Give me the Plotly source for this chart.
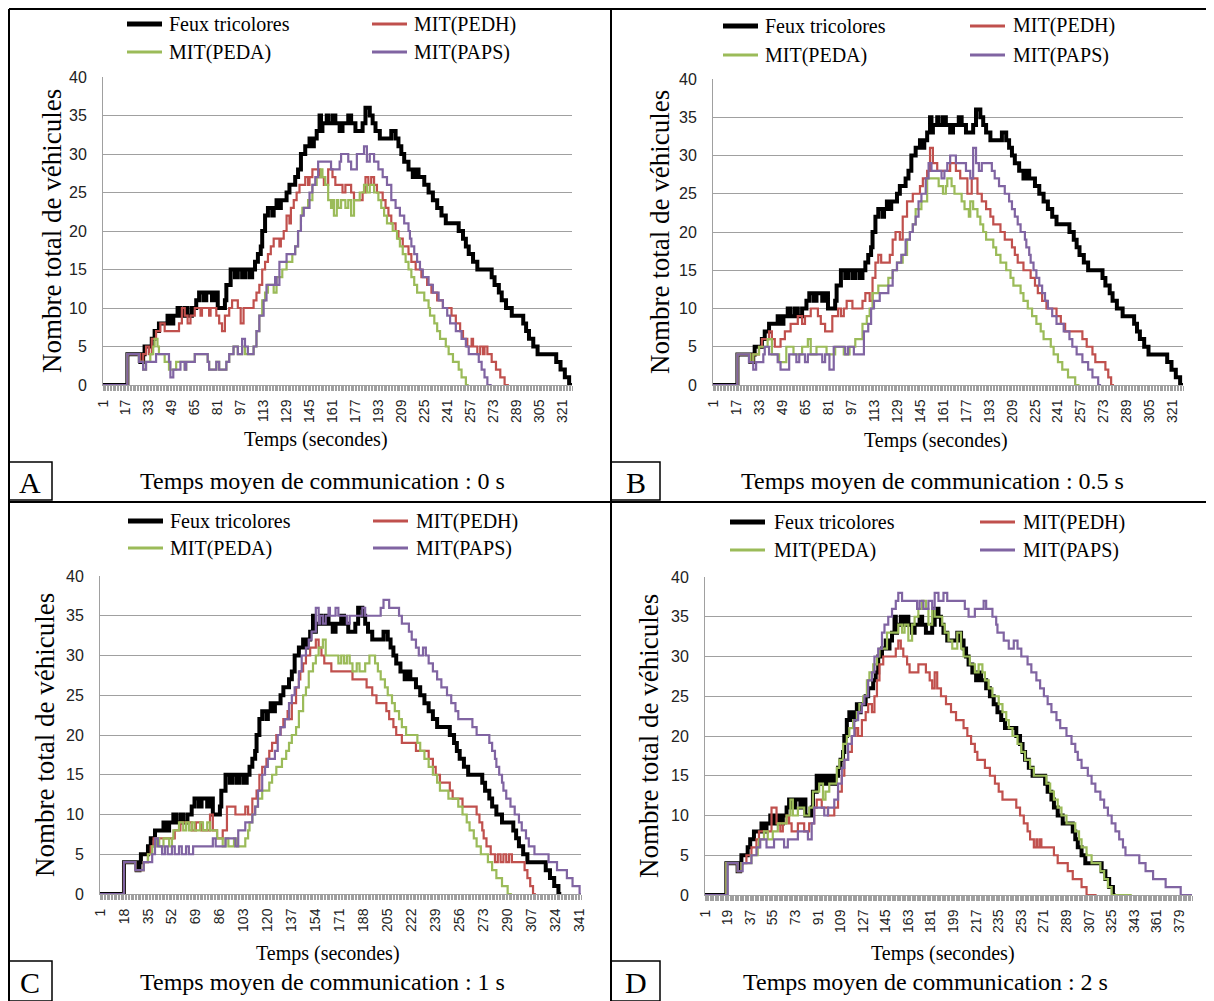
import plotly.graph_objects as go

# the page puts the figure 8 px from the top-left corner of the window
OFF = 8
W, H = 1214 - OFF, 1001 - OFF
SERIF = 'Liberation Serif, Times New Roman, serif'
SANS = 'Liberation Sans, Arial, sans-serif'
GRID = '#a0a0a0'

names = ['Feux tricolores', 'MIT(PEDH)', 'MIT(PEDA)', 'MIT(PAPS)']
colors = ['#000000', '#C0504D', '#9BBB59', '#8064A2']
widths = [4, 2.2, 2.2, 2.2]

# (temps en secondes, nombre total de véhicules) : points de changement de palier
feux = [(1, 0), (18, 4), (27, 3), (29, 4), (30, 5), (35, 6), (37, 7), (40, 8), (46, 9), (48, 8), (50, 9),
        (53, 10), (55, 9), (58, 10), (60, 9), (63, 10), (66, 11), (68, 12), (71, 11), (73, 12), (77, 11),
        (79, 12), (81, 10), (86, 11), (87, 13), (90, 15), (93, 14), (95, 15), (98, 14), (100, 15), (103, 14),
        (105, 15), (107, 16), (109, 17), (111, 18), (112, 20), (114, 22), (116, 23), (119, 22), (120, 23),
        (122, 24), (124, 23), (125, 24), (129, 25), (131, 26), (135, 27), (137, 28), (139, 30), (142, 31),
        (145, 32), (147, 31), (148, 32), (150, 33), (152, 35), (153, 33), (154, 34), (157, 35), (158, 34),
        (161, 35), (163, 34), (166, 33), (168, 34), (172, 35), (174, 34), (177, 33), (182, 34), (184, 36),
        (187, 35), (189, 34), (191, 33), (194, 32), (202, 33), (205, 32), (207, 31), (209, 30), (211, 29),
        (214, 28), (217, 27), (219, 28), (221, 27), (225, 26), (228, 25), (231, 24), (234, 23), (237, 22),
        (240, 21), (249, 20), (252, 19), (254, 18), (256, 17), (259, 16), (262, 15), (272, 14), (274, 13),
        (277, 12), (279, 11), (282, 10), (286, 9), (294, 8), (296, 7), (298, 6), (301, 5), (304, 4),
        (317, 3), (320, 2), (323, 1), (326, 0), (328, 0)]

# A : 0 s
a_pedh = [(1, 0), (18, 4), (27, 3), (29, 4), (31, 5), (33, 4), (35, 6), (38, 7), (41, 8), (44, 7), (54, 8),
          (56, 10), (58, 9), (60, 8), (62, 9), (65, 10), (69, 9), (70, 10), (75, 9), (76, 10), (80, 9),
          (82, 8), (84, 7), (86, 9), (89, 10), (91, 11), (95, 10), (97, 8), (99, 10), (106, 11), (108, 12),
          (110, 13), (112, 15), (114, 16), (116, 17), (118, 18), (120, 19), (124, 18), (125, 19), (127, 20),
          (129, 22), (131, 21), (132, 23), (134, 24), (136, 25), (138, 26), (142, 27), (144, 26), (145, 27),
          (147, 28), (152, 27), (155, 26), (158, 28), (161, 27), (163, 26), (168, 25), (170, 26), (174, 25),
          (176, 24), (182, 25), (184, 27), (186, 26), (188, 27), (190, 26), (192, 25), (196, 24), (198, 23),
          (200, 22), (202, 21), (205, 20), (207, 19), (210, 18), (214, 17), (216, 16), (219, 15), (223, 14),
          (227, 13), (230, 12), (234, 11), (238, 10), (244, 9), (247, 8), (250, 7), (252, 6), (255, 5),
          (258, 6), (259, 5), (262, 4), (264, 5), (266, 4), (267, 5), (269, 4), (272, 3), (275, 2), (278, 1),
          (281, 0), (284, 0)]
a_peda = [(1, 0), (18, 4), (26, 3), (29, 2), (31, 3), (34, 4), (36, 5), (37, 6), (39, 5), (40, 4), (44, 3),
          (47, 2), (52, 3), (58, 2), (59, 3), (65, 4), (74, 3), (75, 2), (80, 3), (82, 2), (87, 3), (89, 4),
          (92, 5), (95, 4), (98, 5), (100, 4), (106, 5), (108, 7), (110, 9), (112, 11), (114, 12), (116, 13),
          (120, 12), (122, 14), (126, 15), (129, 16), (133, 17), (135, 18), (137, 20), (139, 22), (140, 23),
          (144, 24), (147, 26), (150, 27), (153, 28), (154, 27), (156, 26), (158, 24), (160, 23), (161, 24),
          (162, 22), (164, 24), (165, 23), (167, 24), (170, 23), (172, 24), (174, 22), (176, 24), (180, 25),
          (183, 26), (185, 25), (187, 26), (190, 25), (193, 24), (195, 23), (197, 22), (199, 21), (203, 20),
          (206, 19), (208, 18), (210, 17), (212, 16), (214, 15), (216, 14), (218, 13), (220, 12), (225, 11),
          (228, 10), (229, 9), (232, 8), (234, 7), (236, 6), (240, 5), (242, 4), (245, 3), (249, 2), (251, 1),
          (254, 0), (256, 0)]
a_paps = [(1, 0), (18, 4), (26, 3), (29, 2), (31, 3), (38, 4), (47, 3), (48, 1), (50, 2), (55, 3), (58, 2),
          (59, 3), (65, 4), (74, 3), (75, 2), (80, 3), (82, 2), (87, 3), (89, 4), (92, 5), (95, 4), (98, 6),
          (100, 5), (102, 4), (106, 5), (108, 7), (110, 9), (113, 11), (115, 13), (121, 14), (122, 13),
          (124, 16), (129, 17), (135, 18), (137, 20), (139, 22), (141, 23), (145, 25), (147, 26), (149, 27),
          (151, 29), (160, 28), (166, 29), (167, 30), (172, 29), (174, 28), (178, 30), (183, 31), (185, 29),
          (187, 30), (190, 29), (193, 28), (196, 27), (199, 26), (202, 24), (205, 23), (208, 22), (211, 21),
          (214, 20), (215, 19), (216, 18), (218, 17), (220, 16), (222, 15), (224, 14), (228, 13), (231, 12),
          (235, 11), (238, 10), (241, 9), (243, 8), (247, 7), (251, 6), (254, 5), (256, 4), (263, 3),
          (265, 2), (267, 1), (269, 0), (272, 0)]

# B : 0.5 s
b_pedh = [(1, 0), (18, 4), (27, 3), (29, 4), (33, 5), (35, 6), (40, 7), (42, 6), (44, 5), (48, 6), (51, 7),
          (55, 8), (60, 9), (63, 8), (65, 9), (69, 10), (74, 9), (76, 8), (79, 7), (84, 9), (88, 10), (90, 9),
          (92, 10), (94, 11), (98, 10), (105, 11), (107, 12), (110, 11), (112, 14), (114, 16), (116, 17),
          (118, 16), (124, 17), (126, 19), (128, 20), (131, 19), (133, 22), (136, 24), (140, 25), (145, 26),
          (147, 27), (150, 28), (152, 31), (154, 29), (157, 28), (166, 29), (170, 28), (173, 27), (178, 25),
          (181, 27), (185, 25), (188, 24), (191, 23), (194, 22), (196, 21), (201, 20), (204, 19), (209, 18),
          (211, 17), (213, 16), (217, 15), (222, 14), (225, 13), (227, 12), (230, 11), (233, 10), (240, 9),
          (243, 8), (246, 7), (258, 6), (261, 5), (265, 4), (267, 3), (274, 2), (276, 1), (278, 0), (280, 0)]
b_peda = [(1, 0), (18, 4), (27, 3), (29, 4), (33, 5), (39, 6), (42, 4), (47, 3), (52, 5), (57, 4), (63, 5),
          (67, 6), (69, 4), (73, 5), (80, 4), (86, 5), (92, 4), (96, 5), (100, 6), (105, 8), (108, 9),
          (110, 10), (112, 12), (116, 13), (123, 14), (126, 15), (129, 16), (133, 17), (136, 19), (138, 20),
          (140, 21), (142, 23), (146, 24), (150, 27), (158, 26), (161, 25), (163, 26), (164, 27), (167, 26),
          (169, 25), (174, 24), (176, 23), (179, 22), (180, 24), (182, 23), (185, 22), (187, 21), (189, 20),
          (191, 19), (196, 18), (198, 17), (201, 16), (205, 15), (208, 14), (210, 13), (215, 12), (217, 11),
          (220, 10), (223, 9), (226, 8), (229, 7), (231, 6), (236, 5), (238, 4), (241, 3), (244, 2), (248, 1),
          (253, 0), (256, 0)]
b_paps = [(1, 0), (18, 4), (26, 3), (29, 2), (31, 3), (36, 4), (37, 5), (40, 4), (46, 3), (48, 2), (54, 4),
          (59, 3), (61, 4), (65, 3), (67, 4), (77, 3), (79, 4), (82, 2), (85, 5), (93, 4), (95, 5), (99, 4),
          (106, 7), (109, 8), (111, 10), (113, 11), (117, 12), (123, 13), (126, 15), (129, 16), (132, 17),
          (135, 19), (138, 20), (140, 21), (142, 22), (144, 24), (146, 25), (149, 27), (151, 29), (153, 28),
          (160, 27), (162, 28), (164, 29), (166, 30), (170, 29), (177, 28), (180, 27), (182, 31), (184, 29),
          (186, 28), (188, 29), (195, 28), (197, 27), (200, 26), (204, 25), (207, 24), (209, 23), (211, 22),
          (213, 21), (215, 20), (218, 19), (219, 18), (221, 17), (222, 16), (224, 15), (226, 14), (228, 13),
          (230, 12), (232, 11), (234, 10), (237, 9), (240, 8), (245, 7), (249, 6), (251, 5), (254, 4),
          (258, 3), (262, 2), (265, 1), (269, 0), (271, 0)]

# C : 1 s
c_pedh = [(1, 0), (18, 4), (26, 3), (32, 4), (35, 5), (37, 6), (39, 7), (45, 7), (54, 8), (58, 9), (66, 8),
          (69, 9), (73, 8), (79, 10), (81, 8), (84, 7), (88, 8), (91, 11), (97, 10), (104, 11), (106, 10),
          (109, 12), (112, 13), (114, 15), (116, 16), (119, 17), (121, 18), (123, 19), (126, 20), (129, 21),
          (131, 22), (134, 23), (135, 22), (137, 24), (140, 26), (142, 27), (143, 28), (145, 29), (147, 30),
          (150, 31), (154, 32), (156, 31), (158, 30), (160, 29), (165, 28), (180, 27), (190, 26), (194, 25),
          (197, 24), (204, 23), (206, 22), (209, 21), (211, 20), (215, 19), (225, 18), (234, 17), (237, 16),
          (239, 15), (242, 14), (249, 13), (251, 12), (258, 11), (268, 10), (270, 9), (272, 8), (273, 7),
          (275, 6), (278, 5), (281, 4), (283, 5), (285, 4), (287, 5), (289, 4), (291, 5), (293, 4), (302, 3),
          (304, 2), (306, 1), (308, 0), (310, 0)]
c_peda = [(1, 0), (18, 4), (26, 3), (32, 4), (35, 5), (38, 6), (41, 7), (43, 6), (46, 7), (50, 6), (52, 7),
          (53, 8), (57, 9), (60, 8), (62, 9), (64, 8), (66, 9), (68, 8), (72, 9), (74, 8), (77, 9), (79, 8),
          (84, 7), (88, 6), (90, 7), (92, 6), (96, 7), (98, 6), (104, 7), (106, 8), (107, 9), (109, 10),
          (111, 11), (113, 12), (116, 13), (121, 14), (123, 15), (126, 16), (130, 17), (133, 18), (135, 19),
          (137, 20), (140, 21), (142, 23), (145, 25), (147, 26), (149, 28), (152, 29), (154, 30), (156, 31),
          (159, 32), (161, 30), (170, 29), (172, 30), (174, 29), (176, 30), (178, 29), (180, 28), (183, 29),
          (185, 28), (189, 29), (192, 30), (196, 29), (198, 28), (200, 27), (203, 26), (205, 25), (208, 24),
          (210, 23), (213, 22), (215, 21), (218, 20), (226, 19), (228, 18), (231, 17), (234, 16), (237, 15),
          (240, 14), (242, 13), (248, 12), (255, 11), (258, 10), (261, 9), (263, 8), (266, 7), (268, 6),
          (271, 5), (276, 4), (279, 3), (282, 2), (286, 1), (290, 0), (293, 0)]
c_paps = [(1, 0), (18, 4), (26, 3), (32, 4), (38, 5), (40, 7), (42, 6), (45, 5), (47, 6), (49, 5), (52, 6),
          (54, 5), (57, 6), (59, 5), (62, 6), (64, 5), (67, 6), (81, 7), (83, 6), (90, 7), (97, 6), (99, 8),
          (104, 9), (109, 10), (111, 11), (113, 13), (116, 15), (118, 16), (120, 17), (125, 18), (127, 20),
          (129, 21), (132, 22), (135, 24), (137, 25), (139, 26), (142, 28), (144, 30), (147, 31), (149, 32),
          (151, 33), (154, 36), (156, 34), (157, 35), (159, 34), (161, 35), (163, 36), (164, 35), (168, 36),
          (170, 35), (176, 34), (178, 35), (187, 36), (189, 35), (200, 36), (202, 37), (206, 36), (213, 35),
          (215, 34), (220, 33), (222, 32), (225, 31), (227, 30), (230, 31), (232, 30), (234, 29), (237, 28),
          (240, 27), (243, 26), (247, 25), (250, 24), (253, 23), (255, 22), (265, 21), (268, 20), (277, 19),
          (279, 18), (281, 17), (282, 16), (284, 15), (286, 14), (287, 13), (289, 12), (292, 11), (295, 10),
          (298, 9), (300, 8), (303, 7), (305, 6), (309, 5), (319, 4), (325, 3), (332, 2), (336, 1), (341, 0),
          (342, 0)]

# D : 2 s
d_pedh = [(1, 0), (18, 4), (27, 3), (30, 4), (34, 5), (38, 6), (42, 7), (44, 8), (54, 11), (58, 9), (61, 8),
          (63, 9), (66, 10), (68, 9), (70, 8), (75, 9), (80, 8), (84, 9), (88, 11), (90, 12), (94, 11),
          (99, 10), (104, 11), (107, 13), (110, 15), (112, 17), (115, 18), (118, 20), (121, 21), (123, 20),
          (126, 22), (129, 23), (131, 24), (134, 23), (136, 25), (138, 27), (140, 29), (143, 30), (153, 31),
          (155, 32), (157, 31), (159, 30), (162, 29), (164, 28), (171, 29), (177, 28), (180, 27), (182, 26),
          (184, 28), (186, 26), (189, 25), (193, 24), (197, 23), (201, 22), (207, 21), (210, 20), (213, 19),
          (216, 18), (218, 17), (224, 16), (228, 15), (232, 14), (235, 13), (238, 12), (249, 11), (252, 10),
          (255, 9), (258, 8), (260, 7), (263, 6), (265, 7), (266, 6), (268, 7), (269, 6), (279, 5), (282, 4),
          (290, 3), (294, 2), (301, 1), (305, 0), (313, 0)]
d_peda = [(1, 0), (18, 4), (27, 3), (30, 4), (38, 5), (43, 6), (44, 7), (48, 8), (51, 7), (55, 8), (59, 9),
          (66, 10), (69, 12), (71, 10), (75, 11), (80, 10), (84, 11), (87, 13), (92, 14), (95, 12), (97, 13),
          (100, 14), (106, 16), (108, 17), (111, 19), (114, 20), (116, 21), (119, 22), (122, 23), (124, 24),
          (127, 25), (130, 27), (132, 28), (135, 29), (138, 30), (140, 31), (146, 33), (155, 34), (158, 33),
          (160, 34), (163, 32), (166, 34), (168, 35), (171, 36), (174, 37), (177, 36), (179, 34), (182, 36),
          (184, 35), (190, 34), (192, 33), (195, 32), (198, 31), (202, 33), (205, 31), (207, 30), (212, 29),
          (216, 28), (219, 29), (222, 28), (224, 27), (227, 26), (230, 25), (235, 24), (238, 23), (241, 22),
          (243, 21), (246, 20), (250, 19), (253, 18), (256, 17), (260, 16), (263, 15), (273, 14), (276, 13),
          (279, 12), (282, 11), (285, 10), (289, 9), (296, 8), (299, 7), (301, 6), (305, 5), (309, 4),
          (316, 3), (319, 2), (322, 1), (325, 0), (341, 0)]
d_paps = [(1, 0), (19, 4), (27, 3), (31, 4), (38, 5), (42, 6), (45, 7), (50, 6), (56, 7), (64, 6), (67, 7),
          (75, 8), (83, 7), (86, 9), (88, 11), (96, 10), (99, 11), (104, 12), (107, 14), (110, 16), (112, 17),
          (115, 19), (118, 20), (120, 22), (123, 23), (126, 24), (128, 25), (131, 27), (134, 28), (136, 30),
          (139, 31), (142, 33), (144, 34), (147, 35), (150, 36), (153, 37), (155, 38), (158, 37), (170, 36),
          (172, 37), (175, 36), (179, 37), (182, 36), (184, 38), (187, 37), (191, 38), (194, 37), (208, 36),
          (211, 35), (216, 36), (223, 37), (225, 36), (230, 35), (233, 34), (234, 33), (239, 32), (243, 31),
          (247, 32), (250, 31), (253, 30), (258, 29), (261, 28), (265, 27), (268, 26), (271, 25), (274, 24),
          (277, 23), (281, 22), (284, 21), (289, 20), (293, 19), (296, 18), (298, 17), (301, 16), (306, 15),
          (309, 14), (312, 13), (316, 12), (319, 11), (322, 10), (325, 9), (328, 8), (331, 7), (334, 6),
          (336, 5), (347, 4), (352, 3), (358, 2), (368, 1), (380, 0), (389, 0)]

panel_series = [
    [feux, a_pedh, a_peda, a_paps],
    [feux, b_pedh, b_peda, b_paps],
    [feux, c_pedh, c_peda, c_paps],
    [feux, d_pedh, d_peda, d_paps],
]
letters = ['A', 'B', 'C', 'D']
captions = ['Temps moyen de communication : 0 s',
            'Temps moyen de communication : 0.5 s',
            'Temps moyen de communication : 1 s',
            'Temps moyen de communication : 2 s']
x_last = [328, 328, 342, 389]
x_ticks = [list(range(1, 329, 16)), list(range(1, 329, 16)),
           list(range(1, 343, 17)), list(range(1, 390, 18))]

# geometry in window pixels (plot area l, r, t, b) and decorations
geo = [
    dict(l=103, r=572, t=77, b=385, ytx=52, xtx=316, xty=440, capx=322, capy=481,
         box=(8, 462, 52, 500), leg=(127, 167, 372, 412, 24, 52)),
    dict(l=713, r=1183, t=79, b=385, ytx=660, xtx=936, xty=441, capx=932, capy=481,
         box=(611, 462, 660, 500), leg=(723, 763, 970, 1011, 26, 55)),
    dict(l=100, r=581, t=576, b=894, ytx=45, xtx=328, xty=953, capx=322, capy=982,
         box=(8, 961, 52, 1001), leg=(128, 168, 373, 414, 521, 548)),
    dict(l=705, r=1192, t=577, b=895, ytx=649, xtx=943, xty=953, capx=925, capy=982,
         box=(611, 961, 660, 1001), leg=(730, 772, 980, 1021, 522, 550)),
]


def px(x):
    return (x - OFF) / W


def py(y):
    return 1 - (y - OFF) / H


def label(x, y, text, size, **kw):
    d = dict(x=px(x), y=py(y), text=text, showarrow=False, xref='paper', yref='paper',
             xanchor='center', yanchor='middle', font=dict(family=SERIF, size=size, color='#000'))
    d.update(kw)
    return d


fig = go.Figure()
shapes = []
annotations = []

for i, (series, g) in enumerate(zip(panel_series, geo)):
    k = '' if i == 0 else str(i + 1)
    for s, name, color, w in zip(series, names, colors, widths):
        fig.add_trace(go.Scatter(
            x=[p[0] for p in s], y=[p[1] for p in s],
            mode='lines', name=name,
            line=dict(color=color, width=w, shape='hv'),
            xaxis='x' + k, yaxis='y' + k,
            showlegend=False, hoverinfo='skip',
        ))

    fig.layout['xaxis' + k] = dict(
        domain=[px(g['l']), px(g['r'])], range=[1, x_last[i]], anchor='y' + k,
        tickmode='array', tickvals=x_ticks[i], ticktext=[str(t) for t in x_ticks[i]],
        tickangle=-90, tickfont=dict(family=SANS, size=14, color='#222'),
        ticks='outside', ticklen=5, tickcolor=GRID, ticklabelstandoff=3,
        minor=dict(ticks='outside', ticklen=5, tickcolor=GRID, dtick=1, tick0=1),
        showline=True, linecolor=GRID, linewidth=1, automargin=False,
        showgrid=False, zeroline=False, fixedrange=True,
    )
    fig.layout['yaxis' + k] = dict(
        domain=[py(g['b']), py(g['t'])], range=[0, 40], dtick=5, anchor='x' + k,
        showgrid=True, gridcolor=GRID, gridwidth=1,
        showline=True, linecolor=GRID, linewidth=1, ticks='', automargin=False,
        tickfont=dict(family=SANS, size=16, color='#222'), ticklabelstandoff=12,
        zeroline=False, fixedrange=True,
    )

    # axis titles and caption
    annotations.append(label(g['ytx'], (g['t'] + g['b']) / 2, 'Nombre total de véhicules', 27, textangle=-90))
    annotations.append(label(g['xtx'], g['xty'], 'Temps (secondes)', 20))
    annotations.append(label(g['capx'], g['capy'], captions[i], 24))

    # letter box
    bx0, by0, bx1, by1 = g['box']
    shapes.append(dict(type='rect', xref='paper', yref='paper', x0=px(bx0), x1=px(bx1),
                       y0=py(by1), y1=py(by0), line=dict(color='#000', width=1.5)))
    annotations.append(label((bx0 + bx1) / 2, (by0 + by1) / 2 + 1, letters[i], 30))

    # legend (2 x 2)
    lx1, tx1, lx2, tx2, ly1, ly2 = g['leg']
    spots = [(lx1, tx1, ly1), (lx2, tx2, ly1), (lx1, tx1, ly2), (lx2, tx2, ly2)]
    for (lx, tx, ly), name, color, w in zip(spots, names, colors, widths):
        shapes.append(dict(type='line', xref='paper', yref='paper', x0=px(lx), x1=px(lx + 35),
                           y0=py(ly), y1=py(ly), line=dict(color=color, width=w + 1)))
        annotations.append(label(tx, ly, name, 20, xanchor='left'))

# panel frames
frame = [
    (9, 9, 1209, 9), (9, 9, 9, 1001), (1209, 9, 1209, 1001),
    (611, 9, 611, 1001), (9, 502, 1209, 502),
]
for x0, y0, x1, y1 in frame:
    shapes.append(dict(type='line', xref='paper', yref='paper', x0=px(x0), x1=px(x1),
                       y0=py(y0), y1=py(y1), line=dict(color='#000', width=2)))

fig.update_layout(
    width=W, height=H,
    margin=dict(l=0, r=0, t=0, b=0, autoexpand=False),
    paper_bgcolor='white', plot_bgcolor='white',
    showlegend=False,
    shapes=shapes, annotations=annotations,
    font=dict(family=SERIF),
)

fig.write_html('out.html')
